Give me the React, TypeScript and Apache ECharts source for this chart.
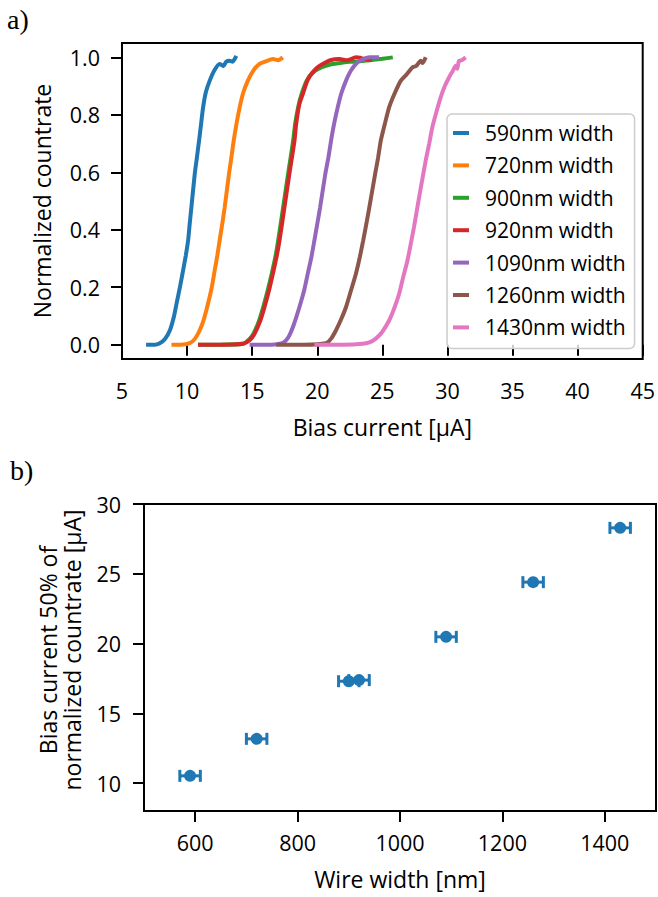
import React, { useEffect, useRef } from "react";
import * as echarts from "echarts";

const FONT = "Open Sans";
const COLORS = ["#1f77b4", "#ff7f0e", "#2ca02c", "#d62728", "#9467bd", "#8c564b", "#e377c2"];

const curveNames = ["590nm width", "720nm width", "900nm width", "920nm width", "1090nm width", "1260nm width", "1430nm width"];

const x590 = [6.85, 7.5, 7.9, 8.3, 8.68, 9.0, 9.19, 9.45, 9.69, 9.9, 10.08, 10.2, 10.33, 10.59, 10.75, 10.92, 11.08, 11.23, 11.45, 11.74, 12.1, 12.5, 12.8, 13.0, 13.27, 13.5, 13.78];
const y590 = [0, 0, 0.005, 0.02, 0.05, 0.1, 0.143, 0.2, 0.258, 0.31, 0.363, 0.42, 0.478, 0.595, 0.65, 0.71, 0.77, 0.826, 0.88, 0.919, 0.955, 0.977, 0.97, 0.985, 0.988, 0.985, 1.005];

const x720 = [8.8, 9.5, 10.2, 10.6, 10.97, 11.3, 11.61, 11.9, 12.12, 12.32, 12.5, 12.7, 12.89, 13.22, 13.4, 13.58, 13.8, 14.04, 14.3, 14.67, 15.1, 15.57, 16.0, 16.59, 17.0, 17.35];
const y720 = [0, 0, 0.005, 0.02, 0.05, 0.09, 0.143, 0.2, 0.258, 0.31, 0.363, 0.42, 0.478, 0.595, 0.65, 0.71, 0.77, 0.826, 0.875, 0.919, 0.955, 0.977, 0.985, 0.994, 0.99, 1.0];

const x900 = [10.84, 12.5, 14.3, 14.8, 15.1, 15.5, 15.85, 16.2, 16.5, 16.8, 17.0, 17.38, 17.76, 18.15, 18.3, 18.53, 18.8, 19.2, 19.6, 20.3, 21.0, 21.7, 22.5, 23.0, 24.0, 25.0, 25.8];
const y900 = [0, 0, 0.003, 0.02, 0.038, 0.08, 0.131, 0.19, 0.247, 0.31, 0.363, 0.478, 0.595, 0.71, 0.768, 0.826, 0.873, 0.92, 0.945, 0.965, 0.975, 0.98, 0.985, 0.985, 0.99, 0.995, 1.0];

const x920 = [10.84, 12.5, 14.3, 14.8, 15.18, 15.6, 15.95, 16.3, 16.59, 16.85, 17.1, 17.48, 17.86, 18.25, 18.38, 18.63, 18.89, 19.25, 19.65, 20.0, 20.42, 21.0, 21.7, 22.3, 22.97, 23.6, 24.2];
const y920 = [0, 0, 0.003, 0.015, 0.038, 0.08, 0.131, 0.19, 0.247, 0.3, 0.363, 0.478, 0.595, 0.71, 0.768, 0.838, 0.873, 0.92, 0.948, 0.965, 0.977, 0.99, 0.994, 0.99, 1.0, 0.995, 0.99];

const x1090 = [14.8, 16.5, 17.3, 17.6, 17.86, 18.2, 18.63, 19.0, 19.27, 19.55, 19.78, 20.0, 20.22, 20.62, 20.85, 21.06, 21.3, 21.57, 21.85, 22.21, 22.6, 23.1, 23.5, 24.0, 24.75];
const y1090 = [0, 0, 0.005, 0.015, 0.032, 0.07, 0.131, 0.19, 0.247, 0.305, 0.363, 0.42, 0.478, 0.595, 0.65, 0.71, 0.77, 0.826, 0.875, 0.919, 0.955, 0.983, 0.993, 1.0, 1.0];

const x1260 = [16.85, 19.0, 20.67, 21.05, 21.44, 21.85, 22.21, 22.6, 22.97, 23.27, 23.53, 23.77, 24.0, 24.45, 24.67, 24.88, 25.2, 25.52, 25.95, 26.42, 26.85, 27.3, 27.6, 27.95, 28.1, 28.33];
const y1260 = [0, 0, 0.005, 0.02, 0.05, 0.09, 0.131, 0.19, 0.247, 0.305, 0.363, 0.42, 0.478, 0.595, 0.65, 0.71, 0.77, 0.826, 0.875, 0.919, 0.94, 0.965, 0.97, 0.988, 0.98, 1.0];

const x1430 = [19.78, 22.0, 23.48, 24.0, 24.5, 25.0, 25.52, 25.9, 26.29, 26.6, 26.93, 27.18, 27.43, 27.65, 27.87, 28.1, 28.33, 28.6, 28.84, 29.15, 29.48, 29.8, 30.12, 30.4, 30.63, 30.75, 30.88, 31.1, 31.4];
const y1430 = [0, 0, 0.003, 0.008, 0.021, 0.045, 0.084, 0.125, 0.177, 0.235, 0.293, 0.35, 0.409, 0.467, 0.525, 0.583, 0.641, 0.7, 0.757, 0.81, 0.861, 0.9, 0.93, 0.952, 0.971, 0.96, 0.988, 0.99, 1.0];

const curvesX = [x590, x720, x900, x920, x1090, x1260, x1430];
const curvesY = [y590, y720, y900, y920, y1090, y1260, y1430];

const topXTicks = [5, 10, 15, 20, 25, 30, 35, 40, 45];
const topYTicks = [0, 0.2, 0.4, 0.6, 0.8, 1.0];

const wireWidths = [590, 720, 900, 920, 1090, 1260, 1430];
const bias50 = [10.52, 13.17, 17.3, 17.38, 20.48, 24.4, 28.29];
const widthErr = [20, 20, 20, 20, 20, 20, 20];

const botXTicks = [600, 800, 1000, 1200, 1400];
const botYTicks = [10, 15, 20, 25, 30];

export default function App() {
  const ref = useRef<HTMLDivElement>(null);

  useEffect(() => {
    document.body.style.margin = "0";
    if (!ref.current) return;
    const chart = echarts.init(ref.current, null, { renderer: "svg" });

    const axisLabel = { color: "#000", fontSize: 21.5, fontFamily: FONT };
    const nameStyle = { color: "#000", fontSize: 23, fontFamily: FONT };
    const tick = { show: true, inside: false, length: 11, lineStyle: { color: "#000", width: 2 } };

    const lineSeries = curveNames.map((name, i) => ({
      name,
      type: "line",
      xAxisIndex: 0,
      yAxisIndex: 0,
      data: curvesX[i].map((x, j) => [x, curvesY[i][j]]),
      showSymbol: false,
      symbol: "none",
      smooth: 0.2,
      lineStyle: { color: COLORS[i], width: 4 },
      itemStyle: { color: COLORS[i] },
    }));

    const option: any = {
      animation: false,
      grid: [
        { left: 122, top: 43, width: 522, height: 316, show: true, borderColor: "#000", borderWidth: 2, containLabel: false },
        { left: 144, top: 504, width: 512, height: 307, show: true, borderColor: "#000", borderWidth: 2, containLabel: false },
      ],
      legend: {
        data: curveNames.map((n, i) => ({ name: n, itemStyle: { color: COLORS[i] } })),
        orient: "vertical",
        left: 447,
        top: 114,
        icon: "rect",
        itemWidth: 16,
        itemHeight: 4,
        itemGap: 8.4,
        padding: [7, 9, 9, 6],
        backgroundColor: "rgba(255,255,255,0.8)",
        borderColor: "#cccccc",
        borderWidth: 1.5,
        borderRadius: 5,
        textStyle: { color: "#000", fontSize: 21, fontFamily: FONT, lineHeight: 24, padding: [0, 0, 0, 11] },
      },
      xAxis: [
        {
          type: "value",
          gridIndex: 0,
          min: 5,
          max: 45,
          interval: 5,
          axisLine: { show: false },
          axisTick: { ...tick, customValues: topXTicks },
          axisLabel: { ...axisLabel, margin: 20, customValues: topXTicks, formatter: (v: number) => String(v) },
          splitLine: { show: false },
          name: "Bias current [μA]",
          nameLocation: "middle",
          nameGap: 56,
          nameTextStyle: nameStyle,
        },
        {
          type: "value",
          gridIndex: 1,
          min: 500,
          max: 1500,
          axisLine: { show: false },
          axisTick: { ...tick, customValues: botXTicks },
          axisLabel: { ...axisLabel, margin: 20, customValues: botXTicks, formatter: (v: number) => String(v) },
          splitLine: { show: false },
          name: "Wire width [nm]",
          nameLocation: "middle",
          nameGap: 56,
          nameTextStyle: nameStyle,
        },
      ],
      yAxis: [
        {
          type: "value",
          gridIndex: 0,
          min: -0.05,
          max: 1.05,
          axisLine: { show: false },
          axisTick: { ...tick, customValues: topYTicks },
          axisLabel: { ...axisLabel, margin: 22, customValues: topYTicks, formatter: (v: number) => v.toFixed(1) },
          splitLine: { show: false },
          name: "Normalized countrate",
          nameLocation: "middle",
          nameGap: 69,
          nameTextStyle: nameStyle,
        },
        {
          type: "value",
          gridIndex: 1,
          min: 8,
          max: 30,
          axisLine: { show: false },
          axisTick: { ...tick, customValues: botYTicks },
          axisLabel: { ...axisLabel, margin: 23, customValues: botYTicks, formatter: (v: number) => String(v) },
          splitLine: { show: false },
        },
      ],
      graphic: [
        { type: "text", left: 7, top: 5, style: { text: "a)", fontSize: 28, fontFamily: "Liberation Serif", fill: "#000" } },
        { type: "text", left: 10, top: 456, style: { text: "b)", fontSize: 28, fontFamily: "Liberation Serif", fill: "#000" } },
        {
          type: "text",
          x: 60,
          y: 650,
          rotation: Math.PI / 2,
          style: {
            text: "Bias current 50% of\nnormalized countrate [μA]",
            fontSize: 23,
            lineHeight: 24,
            fontFamily: FONT,
            fill: "#000",
            align: "center",
            verticalAlign: "middle",
          },
        },
      ],
      series: [
        ...lineSeries,
        {
          type: "custom",
          xAxisIndex: 1,
          yAxisIndex: 1,
          data: wireWidths.map((w, i) => [w, bias50[i], widthErr[i]]),
          encode: { x: 0, y: 1 },
          renderItem: (params: any, api: any) => {
            const x = api.value(0);
            const y = api.value(1);
            const e = api.value(2);
            const a = api.coord([x - e, y]);
            const b = api.coord([x + e, y]);
            const st = { stroke: COLORS[0], lineWidth: 3 };
            return {
              type: "group",
              children: [
                { type: "line", shape: { x1: a[0], y1: a[1], x2: b[0], y2: b[1] }, style: st },
                { type: "line", shape: { x1: a[0], y1: a[1] - 6, x2: a[0], y2: a[1] + 6 }, style: st },
                { type: "line", shape: { x1: b[0], y1: b[1] - 6, x2: b[0], y2: b[1] + 6 }, style: st },
              ],
            };
          },
          z: 2,
        },
        {
          type: "scatter",
          xAxisIndex: 1,
          yAxisIndex: 1,
          data: wireWidths.map((w, i) => [w, bias50[i]]),
          symbol: "circle",
          symbolSize: 12,
          itemStyle: { color: COLORS[0], opacity: 1 },
          z: 3,
        },
      ],
    };

    chart.setOption(option);
    return () => chart.dispose();
  }, []);

  return <div ref={ref} style={{ width: 658, height: 897 }} />;
}
